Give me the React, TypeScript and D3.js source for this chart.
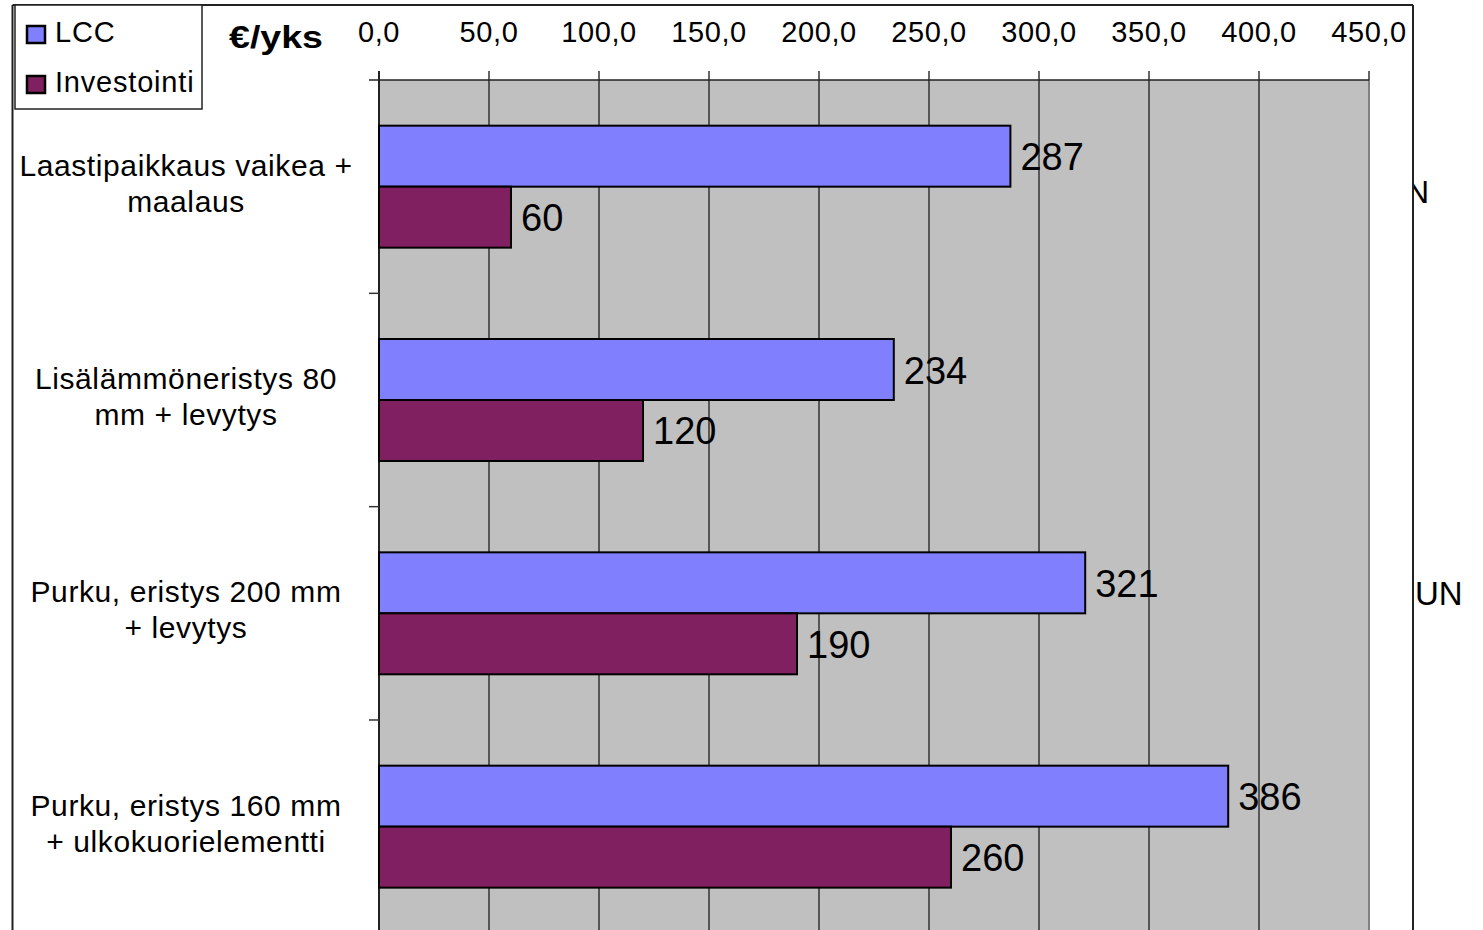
import React from "react";
import * as d3 from "d3";

const categories: string[][] = [
  ["Laastipaikkaus vaikea +", "maalaus"],
  ["Lisälämmöneristys 80", "mm + levytys"],
  ["Purku, eristys 200 mm", "+ levytys"],
  ["Purku, eristys 160 mm", "+ ulkokuorielementti"],
];
const seriesNames = ["LCC", "Investointi"];
const lccValues = [287, 234, 321, 386];
const investValues = [60, 120, 190, 260];
const xTicks = [0, 50, 100, 150, 200, 250, 300, 350, 400, 450];
const colors = ["#8080FF", "#802060"];

const W = 1483;
const H = 930;
const FONT = "'Liberation Sans', Arial, sans-serif";

export default function App() {
  const plotLeft = 379;
  const plotRight = 1369;
  const plotTop = 80;
  const band = 213.33;
  const x = d3.scaleLinear().domain([0, 450]).range([plotLeft, plotRight]);
  const keys = categories.map((c) => c.join(" "));
  const y = d3
    .scaleBand<string>()
    .domain(keys)
    .range([plotTop, plotTop + band * keys.length])
    .paddingInner(0)
    .paddingOuter(0);
  const sub = d3
    .scaleBand<string>()
    .domain(seriesNames)
    .range([0, y.bandwidth()])
    .paddingInner(0)
    .paddingOuter(0.749);
  const data = [lccValues, investValues];
  const fmt = (v: number) => d3.format(".1f")(v).replace(".", ",");
  const plotBottom = plotTop + band * keys.length;

  return (
    <svg
      width={W}
      height={H}
      style={{ position: "absolute", left: 0, top: 0, background: "#fff" }}
      fontFamily={FONT}
    >
      <defs>
        <clipPath id="outside">
          <rect x={1414} y={0} width={100} height={H} />
        </clipPath>
      </defs>
      {/* plot area */}
      <rect x={plotLeft} y={plotTop} width={plotRight - plotLeft} height={plotBottom - plotTop} fill="#C0C0C0" />
      <line x1={plotRight} x2={plotRight} y1={plotTop} y2={plotBottom} stroke="#808080" strokeWidth={2} />
      {/* gridlines */}
      {xTicks.slice(1, -1).map((t) => (
        <line key={t} x1={x(t)} x2={x(t)} y1={plotTop - 9} y2={plotBottom} stroke="#333" strokeWidth={1.5} />
      ))}
      <line x1={x(450)} x2={x(450)} y1={plotTop - 9} y2={plotTop} stroke="#333" strokeWidth={1.5} />
      {/* top axis */}
      <line x1={plotLeft - 10} x2={plotRight} y1={plotTop} y2={plotTop} stroke="#222" strokeWidth={1.5} />
      <line x1={plotLeft} x2={plotLeft} y1={plotTop - 9} y2={plotBottom} stroke="#222" strokeWidth={2} />
      {xTicks.map((t) => (
        <text key={t} x={x(t)} y={42} fontSize={29} letterSpacing={0.6} textAnchor="middle" fill="#000">
          {fmt(t)}
        </text>
      ))}
      {/* category ticks */}
      {keys.slice(1).map((k) => (
        <line key={k} x1={plotLeft - 10} x2={plotLeft} y1={y(k)!} y2={y(k)!} stroke="#333" strokeWidth={1.5} />
      ))}
      {/* bars */}
      {keys.map((k, i) =>
        seriesNames.map((s, j) => {
          const v = data[j][i];
          const by = y(k)! + sub(s)!;
          return (
            <g key={k + s}>
              <rect
                x={x(0)}
                y={by}
                width={x(v) - x(0)}
                height={sub.bandwidth()}
                fill={colors[j]}
                stroke="#000"
                strokeWidth={2}
              />
              <text x={x(v) + 10} y={by + sub.bandwidth() / 2 + 14} fontSize={38} fill="#000">
                {v}
              </text>
            </g>
          );
        })
      )}
      {/* category labels */}
      {keys.map((k, i) => {
        const c = y(k)! + y.bandwidth() / 2;
        return (
          <text key={k} x={186} fontSize={30} letterSpacing={0.6} textAnchor="middle" fill="#000">
            <tspan x={186} y={c - 11}>{categories[i][0]}</tspan>
            <tspan x={186} y={c + 25}>{categories[i][1]}</tspan>
          </text>
        );
      })}
      {/* outer frame */}
      <line x1={12.5} x2={12.5} y1={5} y2={H} stroke="#222" strokeWidth={2} />
      <line x1={12.5} x2={1413} y1={5} y2={5} stroke="#222" strokeWidth={2} />
      <line x1={1413} x2={1413} y1={5} y2={H} stroke="#222" strokeWidth={2} />
      {/* legend */}
      <rect x={15} y={5} width={187} height={104} fill="#fff" stroke="#222" strokeWidth={1.5} />
      {seriesNames.map((s, j) => (
        <g key={s}>
          <rect x={27} y={26 + j * 50} width={18} height={17} fill={colors[j]} stroke="#000" strokeWidth={2.5} />
          <text x={55} y={42 + j * 50} fontSize={29} letterSpacing={0.8} fill="#000">
            {s}
          </text>
        </g>
      ))}
      <text x={229} y={48} fontSize={31} fontWeight="bold" textLength={94} lengthAdjust="spacingAndGlyphs" fill="#000">
        €/yks
      </text>
      {/* clipped overflow text */}
      <g clipPath="url(#outside)">
        <text x={1406} y={203} fontSize={32} fill="#000">N</text>
        <text x={1415} y={605} fontSize={33} fill="#000">UN</text>
      </g>
    </svg>
  );
}
